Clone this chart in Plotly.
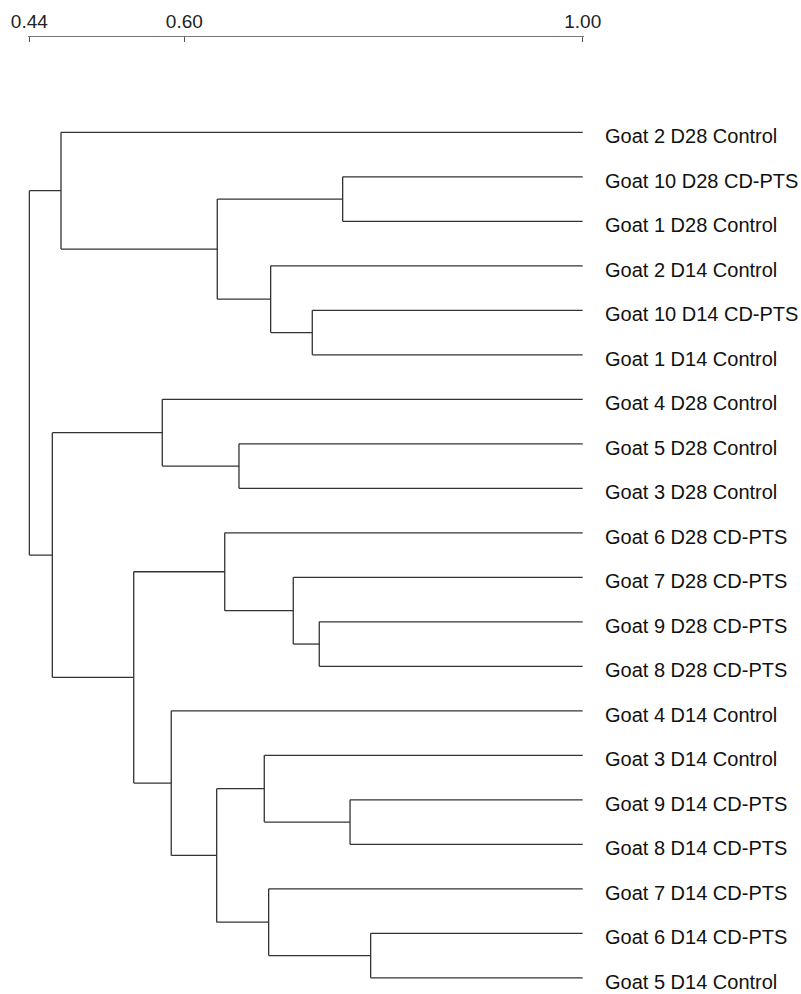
import plotly.graph_objects as go

# ---- data ----
leaf_labels = [
    "Goat 2 D28 Control", "Goat 10 D28 CD-PTS", "Goat 1 D28 Control",
    "Goat 2 D14 Control", "Goat 10 D14 CD-PTS", "Goat 1 D14 Control",
    "Goat 4 D28 Control", "Goat 5 D28 Control", "Goat 3 D28 Control",
    "Goat 6 D28 CD-PTS", "Goat 7 D28 CD-PTS", "Goat 9 D28 CD-PTS",
    "Goat 8 D28 CD-PTS", "Goat 4 D14 Control", "Goat 3 D14 Control",
    "Goat 9 D14 CD-PTS", "Goat 8 D14 CD-PTS", "Goat 7 D14 CD-PTS",
    "Goat 6 D14 CD-PTS", "Goat 5 D14 Control",
]
# merges: node ids 0..19 are leaves, merged nodes are numbered 20, 21, ...
merge_left = [1, 4, 3, 20, 0, 7, 6, 11, 10, 9, 15, 14, 18, 17, 31, 13, 29, 26, 24]
merge_right = [2, 5, 21, 22, 23, 8, 25, 12, 27, 28, 16, 30, 19, 32, 33, 34, 35, 36, 37]
merge_similarity = [0.759, 0.7285, 0.6867, 0.6331, 0.4762, 0.6549, 0.5779, 0.7355,
                    0.7094, 0.6406, 0.7664, 0.6803, 0.7871, 0.6847, 0.6325, 0.5869,
                    0.5492, 0.4675, 0.4444]
scale_vals = [0.4444, 0.60, 1.00]
scale_text = ["0.44", "0.60", "1.00"]

# ---- build dendrogram geometry ----
n_leaves = len(leaf_labels)
node_y = {i: float(i) for i in range(n_leaves)}
node_h = {i: 1.0 for i in range(n_leaves)}
parent = {}
for k, (a, b, h) in enumerate(zip(merge_left, merge_right, merge_similarity)):
    nid = n_leaves + k
    node_y[nid] = (node_y[a] + node_y[b]) / 2
    node_h[nid] = h
    parent[a] = nid
    parent[b] = nid

xs, ys = [], []
for nid in node_y:
    if nid in parent:
        p = parent[nid]
        xs += [node_h[p], node_h[nid], None]
        ys += [node_y[nid], node_y[nid], None]
for k, (a, b) in enumerate(zip(merge_left, merge_right)):
    nid = n_leaves + k
    xs += [node_h[nid], node_h[nid], None]
    ys += [node_y[a], node_y[b], None]

fig = go.Figure()
fig.add_trace(go.Scatter(x=xs, y=ys, mode="lines",
                         line=dict(color="#333333", width=1.3),
                         hoverinfo="skip", showlegend=False))

for i, lab in enumerate(leaf_labels):
    fig.add_annotation(x=1.0, y=i, text=lab, showarrow=False, xanchor="left",
                       yanchor="middle", xshift=20, yshift=-4,
                       font=dict(family="Liberation Sans, Arial", size=20, color="#111"))

W, H = 801, 994
px_per_unit = 996.0
x0_px = 184.3  # pixel of 0.60
pad = 0.0012
d0 = (x0_px + (scale_vals[0] - pad - 0.6) * px_per_unit) / W
d1 = (x0_px + (scale_vals[-1] + pad - 0.6) * px_per_unit) / W
y_top_px, step_px = 132.3, 44.5
yr_top = 0 - y_top_px / step_px
yr_bot = (n_leaves - 1) + (H - (y_top_px + step_px * (n_leaves - 1))) / step_px

fig.update_layout(
    width=W, height=H,
    margin=dict(l=0, r=0, t=0, b=0, autoexpand=False),
    paper_bgcolor="white", plot_bgcolor="white",
    showlegend=False,
    xaxis=dict(domain=[d0, d1], range=[scale_vals[0] - pad, scale_vals[-1] + pad],
               anchor="free", position=1 - 35.7 / H, side="top",
               tickvals=scale_vals, ticktext=scale_text,
               showline=True, linecolor="#777", linewidth=1,
               ticks="inside", ticklen=5, tickcolor="#555", tickwidth=1,
               showgrid=False, zeroline=False, automargin=False,
               tickfont=dict(family="Liberation Sans, Arial", size=19, color="#222")),
    yaxis=dict(domain=[0, 1], range=[yr_bot, yr_top], visible=False,
               automargin=False),
)

fig.write_html(
    "out.html",
    config={"displayModeBar": False, "staticPlot": True},
    post_script="document.body.style.margin='0';document.body.style.overflow='hidden';",
)
